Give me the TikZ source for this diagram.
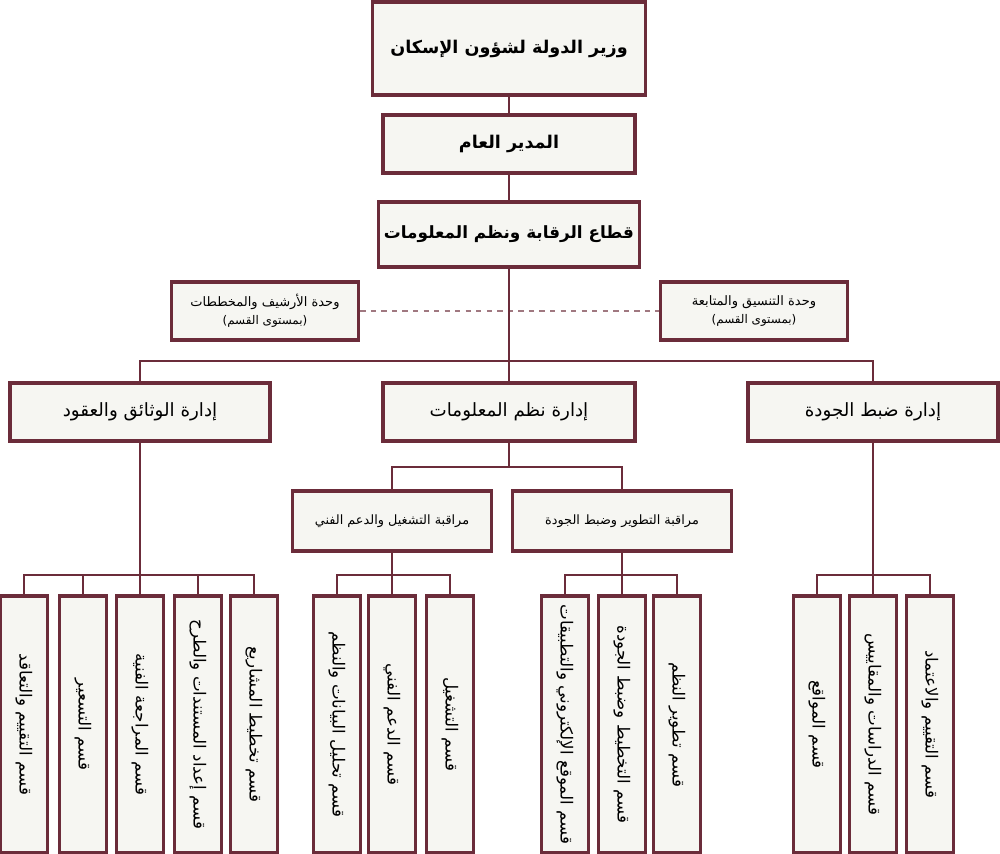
\documentclass[tikz,border=0pt]{standalone}
\usepackage{fontspec}
\newfontfamily\arabicfont[Script=Arabic]{DejaVu Sans}
\TeXXeTstate=1
\definecolor{maroon}{HTML}{6B2C3A}
\definecolor{dashmaroon}{HTML}{A07880}
\definecolor{boxfill}{HTML}{F6F6F2}

\begin{document}
\begin{tikzpicture}[x=0.02cm,y=-0.02cm,
    box/.style={draw=maroon, line width=2pt, fill=boxfill, inner sep=0pt, align=center},
    sz/.style 2 args={minimum width=#1*0.02cm, minimum height=#2*0.02cm},
    head/.style={box, font=\arabicfont\bfseries\fontsize{10}{12}\selectfont},
    dept/.style={box, sz={252}{58}, font=\arabicfont\fontsize{10.4}{13}\selectfont},
    unit/.style={box, sz={187}{58}, font=\arabicfont\fontsize{7.4}{11}\selectfont},
    watch/.style={box, font=\arabicfont\fontsize{7.3}{9}\selectfont},
    leaf/.style={box, sz={257}{47}, rotate=-90, font=\arabicfont\fontsize{9.5}{12}\selectfont},
    link/.style={draw=maroon, line width=1.2pt}]
    \useasboundingbox (0,0) rectangle (1000,854);

    % top of the chart
    \node[head, sz={273}{93}] (minister) at (509,48.5) {\beginR وزير الدولة لشؤون الإسكان\endR};
    \node[head, sz={252}{58}] (gm) at (509,144) {\beginR المدير العام\endR};
    \node[head, sz={261}{65}, font=\arabicfont\bfseries\fontsize{9.6}{12}\selectfont] (sector) at (509,234.5) {\beginR قطاع الرقابة ونظم المعلومات\endR};

    % side units
    \node[unit] (archive) at (265,311) {\beginR وحدة الأرشيف والمخططات\endR\\[-1pt]{\fontsize{6.8}{9}\selectfont\beginR (بمستوى القسم)\endR}};
    \node[unit] (follow) at (754,311) {\beginR وحدة التنسيق والمتابعة\endR\\[-1pt]{\fontsize{6.8}{9}\selectfont\beginR (بمستوى القسم)\endR}};

    % departments
    \node[dept, sz={260}{58}] (docs) at (140,412) {\beginR إدارة الوثائق والعقود\endR};
    \node[dept] (infosys) at (509,412) {\beginR إدارة نظم المعلومات\endR};
    \node[dept, sz={250}{58}] (quality) at (873,412) {\beginR إدارة ضبط الجودة\endR};

    \node[watch, sz={199}{60}] (ops) at (392,521) {\beginR مراقبة التشغيل والدعم الفني\endR};
    \node[watch, sz={219}{60}] (dev) at (622,521) {\beginR مراقبة التطوير وضبط الجودة\endR};

    % sections
    \node[leaf] (d1) at (24,724.5) {\beginR قسم التقييم والتعاقد\endR};
    \node[leaf] (d2) at (83,724.5) {\beginR قسم التسعير\endR};
    \node[leaf] (d3) at (140,724.5) {\beginR قسم المراجعة الفنية\endR};
    \node[leaf] (d4) at (198,724.5) {\beginR قسم إعداد المستندات والطرح\endR};
    \node[leaf] (d5) at (254,724.5) {\beginR قسم تخطيط المشاريع\endR};

    \node[leaf] (o1) at (337,724.5) {\beginR قسم تحليل البيانات والنظم\endR};
    \node[leaf] (o2) at (392,724.5) {\beginR قسم الدعم الفني\endR};
    \node[leaf] (o3) at (450,724.5) {\beginR قسم التشغيل\endR};

    \node[leaf] (v1) at (565,724.5) {\beginR قسم الموقع الإلكتروني والتطبيقات\endR};
    \node[leaf] (v2) at (622,724.5) {\beginR قسم التخطيط وضبط الجودة\endR};
    \node[leaf] (v3) at (677,724.5) {\beginR قسم تطوير النظم\endR};

    \node[leaf] (q1) at (817,724.5) {\beginR قسم المواقع\endR};
    \node[leaf] (q2) at (873,724.5) {\beginR قسم الدراسات والمقاييس\endR};
    \node[leaf] (q3) at (930,724.5) {\beginR قسم التقييم والاعتماد\endR};

    % connectors
    \coordinate (bus) at (509,361);
    \coordinate (ibus) at (509,467);
    \coordinate (dbus) at (140,575);
    \coordinate (obus) at (392,575);
    \coordinate (vbus) at (622,575);
    \coordinate (qbus) at (873,575);

    \draw[dashed, draw=dashmaroon, line width=0.9pt] (archive) -- (follow);
    \draw[link] (minister) -- (gm);
    \draw[link] (gm) -- (sector);
    \draw[link] (sector) -- (infosys);
    \draw[link] (docs.north) |- (bus) -| (quality.north);

    \draw[link] (infosys) -- (ibus);
    \draw[link] (ops.north) |- (ibus) -| (dev.north);

    \draw[link] (docs) -- (d3);
    \draw[link] (d1.west) |- (dbus) -| (d5.west);
    \draw[link] (d2.west) -- (d2.west |- dbus);
    \draw[link] (d4.west) -- (d4.west |- dbus);

    \draw[link] (ops) -- (o2);
    \draw[link] (o1.west) |- (obus) -| (o3.west);

    \draw[link] (dev) -- (v2);
    \draw[link] (v1.west) |- (vbus) -| (v3.west);

    \draw[link] (quality) -- (q2);
    \draw[link] (q1.west) |- (qbus) -| (q3.west);
\end{tikzpicture}
\end{document}
